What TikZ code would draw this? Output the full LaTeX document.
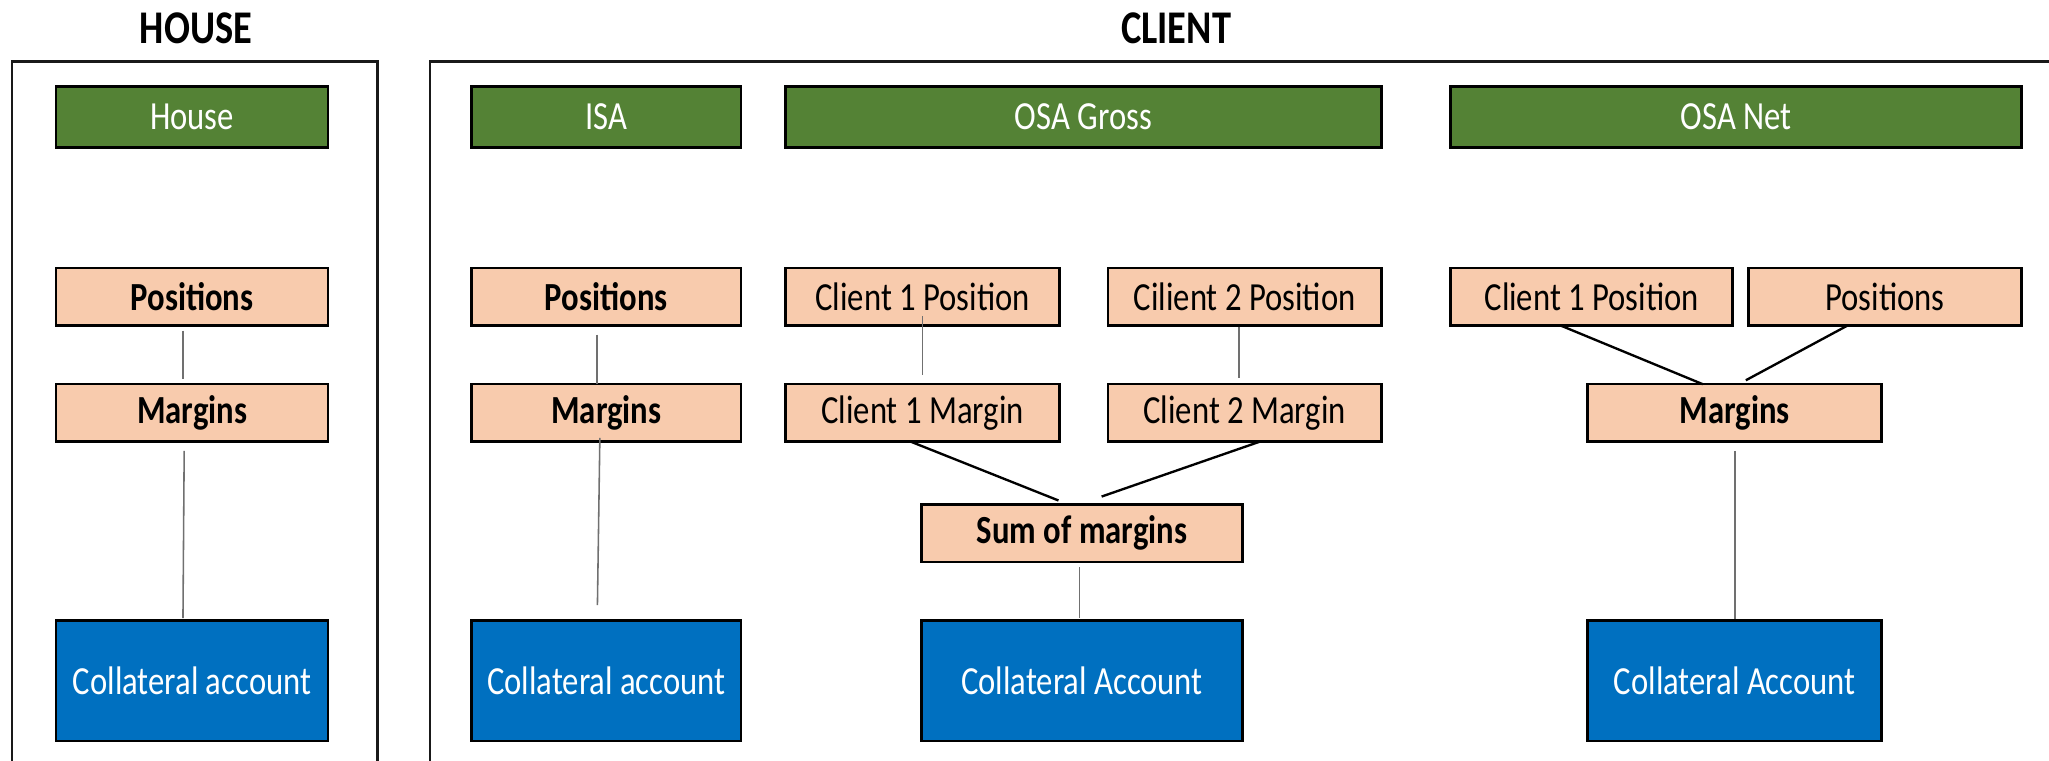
\documentclass[tikz,border=0pt]{standalone}
\usepackage{fontspec}
\setmainfont{Carlito}
\usetikzlibrary{calc}

\definecolor{hdrgreen}{HTML}{548235}
\definecolor{peach}{HTML}{F8CBAD}
\definecolor{acctblue}{HTML}{0070C0}
\definecolor{tiegray}{HTML}{707070}

% slightly tall lettering
\newcommand\tallt[1]{\scalebox{1}[1.22]{#1}}

\begin{document}
\begin{tikzpicture}[x=0.5pt, y=-0.5pt,
  box/.style={draw=black, line width=1pt, inner sep=0pt, outer sep=0pt,
              anchor=north west, font=\fontsize{12.5}{15}\selectfont},
  ghdr/.style={box, fill=hdrgreen, text=white, minimum height=23.5pt},
  pk/.style={box, fill=peach, text=black, minimum height=22pt},
  acct/.style={box, fill=acctblue, text=white, minimum height=46pt},
  title/.style={font=\fontsize{14.7}{17}\selectfont\bfseries, inner sep=0pt},
  frame/.style={draw=black!90, line width=0.9pt},
  tie/.style={draw=tiegray, line width=0.6pt},
  link/.style={draw=black, line width=0.9pt}]

\useasboundingbox (0,0) rectangle (1568,582);

% section titles
\node[title] (thouse) at (150,22) {\tallt{HOUSE}};
\node[title] (tclient) at (900,22) {\tallt{CLIENT}};

% section frames
\draw[frame] (9,590) -- (9,47) -- (289,47) -- (289,590);
\draw[frame] (329,590) -- (329,47) -- (1575,47);

% header bars
\node[ghdr, minimum width=104pt]   (hhdr) at (43,66)   {\tallt{House}};
\node[ghdr, minimum width=103pt]   (ihdr) at (361,66)  {\tallt{ISA}};
\node[ghdr, minimum width=228pt]   (ghdr) at (601,66)  {\tallt{OSA Gross}};
\node[ghdr, minimum width=218.5pt] (nhdr) at (1110,66) {\tallt{OSA Net}};

% house column
\node[pk, minimum width=104pt] (hpos) at (43,205) {\tallt{\bfseries Positions}};
\node[pk, minimum width=104pt] (hmar) at (43,294) {\tallt{\bfseries Margins}};
\node[acct, minimum width=104pt] (hcol) at (43,475) {\tallt{Collateral account}};

% ISA column
\node[pk, minimum width=103pt] (ipos) at (361,205) {\tallt{\bfseries Positions}};
\node[pk, minimum width=103pt] (imar) at (361,294) {\tallt{\bfseries Margins}};
\node[acct, minimum width=103pt] (icol) at (361,475) {\tallt{Collateral account}};

% OSA gross column
\node[pk, minimum width=105pt]   (c1pos) at (601,205) {\tallt{Client 1 Position}};
\node[pk, minimum width=104.5pt] (c2pos) at (848,205) {\tallt{Cilient 2 Position}};
\node[pk, minimum width=105pt]   (c1mar) at (601,294) {\tallt{Client 1 Margin}};
\node[pk, minimum width=104.5pt] (c2mar) at (848,294) {\tallt{Client 2 Margin}};
\node[pk, minimum width=123pt]   (sum)   at (705,386) {\tallt{\bfseries Sum of margins}};
\node[acct, minimum width=123pt] (gcol)  at (705,475) {\tallt{Collateral Account}};

% OSA net column
\node[pk, minimum width=108pt]   (np1)  at (1110,205) {\tallt{Client 1 Position}};
\node[pk, minimum width=104.5pt] (np2)  at (1338,205) {\tallt{Positions}};
\node[pk, minimum width=112.5pt] (nmar) at (1215,294) {\tallt{\bfseries Margins}};
\node[acct, minimum width=112.5pt] (ncol) at (1215,475) {\tallt{Collateral Account}};

% connectors
\draw[tie, shorten <=2pt, shorten >=2pt]
  ($(hpos.south)+(-7,0)$) -- ($(hmar.north)+(-7,0)$);
\draw[tie, shorten <=3.5pt, shorten >=1pt]
  ($(hmar.south)+(-6,0)$) -- ($(hcol.north)+(-7,0)$);
\draw[tie, shorten <=3.5pt]
  ($(ipos.south)+(-7,0)$) -- ($(imar.north)+(-7,0)$);
\draw[tie, shorten <=-1.5pt, shorten >=6pt]
  ($(imar.south)+(-5,0)$) -- ($(icol.north)+(-7,0)$);
\draw[tie, shorten <=-3.5pt, shorten >=3.5pt]
  (c1pos.south) -- (c1mar.north);
\draw[tie, shorten <=0.5pt, shorten >=2.5pt]
  ($(c2pos.south)+(-4.5,0)$) -- ($(c2mar.north)+(-4.5,0)$);
\draw[link] ($(c1mar.south)+(-9,0)$) -- ($(sum.north)+(-18,-3)$);
\draw[link] ($(c2mar.south)+(11.5,0)$) -- ($(sum.north)+(15,-6)$);
\draw[tie, shorten <=2pt, shorten >=1pt]
  ($(sum.south)+(-2,0)$) -- ($(gcol.north)+(-2,0)$);
\draw[link] ($(np1.south)+(-24,0)$) -- ($(nmar.north)+(-24.5,0)$);
\draw[link] ($(np2.south)+(-28.5,0)$) -- ($(nmar.north)+(8.5,-3)$);
\draw[tie, shorten <=3.5pt, shorten >=0.5pt]
  (nmar.south) -- (ncol.north);

\end{tikzpicture}
\end{document}
